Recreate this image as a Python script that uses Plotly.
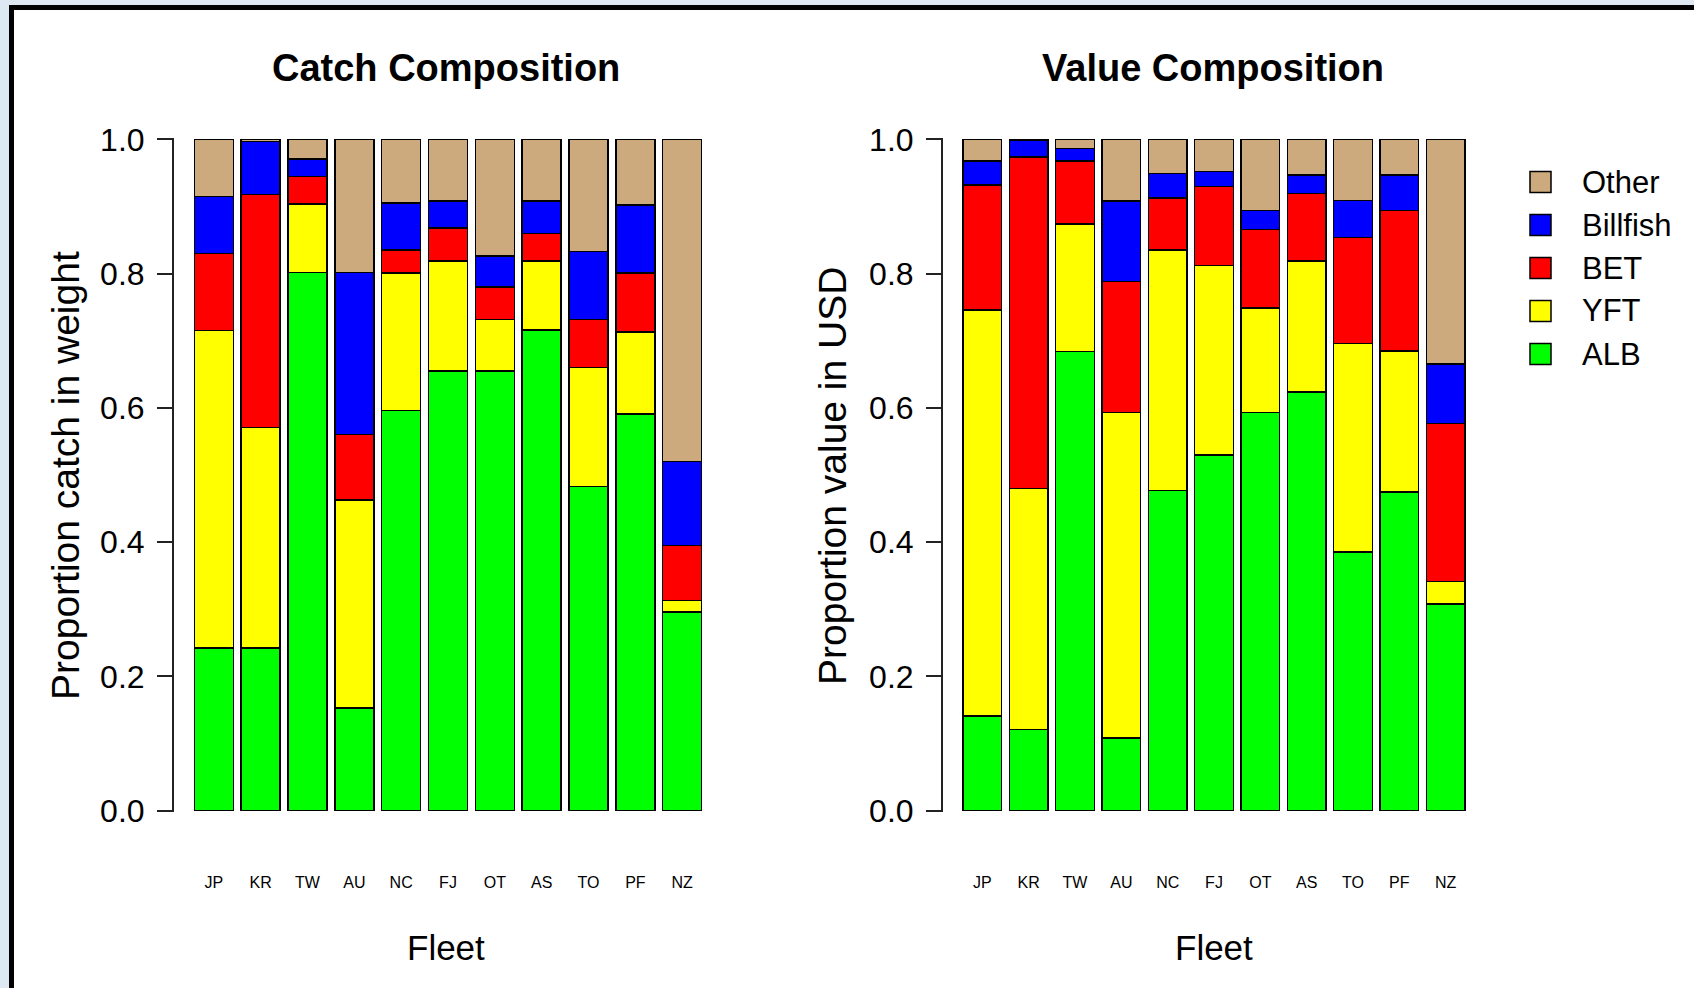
import plotly.graph_objects as go

fleets = ["JP", "KR", "TW", "AU", "NC", "FJ", "OT", "AS", "TO", "PF", "NZ"]
species = ["ALB", "YFT", "BET", "Billfish", "Other"]
species_colors = ["#00FF00", "#FFFF00", "#FF0000", "#0000FF", "#CDAA7D"]

catch_alb = [0.242, 0.242, 0.802, 0.153, 0.596, 0.655, 0.655, 0.716, 0.483, 0.591, 0.296]
catch_yft = [0.473, 0.329, 0.102, 0.310, 0.205, 0.164, 0.077, 0.103, 0.177, 0.122, 0.017]
catch_bet = [0.115, 0.347, 0.041, 0.097, 0.034, 0.049, 0.048, 0.041, 0.072, 0.088, 0.082]
catch_billfish = [0.085, 0.079, 0.026, 0.242, 0.070, 0.040, 0.046, 0.048, 0.101, 0.101, 0.125]
catch_other = [0.085, 0.003, 0.029, 0.198, 0.095, 0.092, 0.174, 0.092, 0.167, 0.098, 0.480]

value_alb = [0.141, 0.121, 0.684, 0.108, 0.477, 0.530, 0.593, 0.624, 0.385, 0.475, 0.308]
value_yft = [0.605, 0.359, 0.190, 0.485, 0.358, 0.282, 0.156, 0.195, 0.311, 0.210, 0.033]
value_bet = [0.186, 0.494, 0.094, 0.195, 0.078, 0.118, 0.117, 0.100, 0.158, 0.209, 0.236]
value_billfish = [0.036, 0.024, 0.018, 0.120, 0.036, 0.022, 0.028, 0.028, 0.055, 0.053, 0.088]
value_other = [0.032, 0.002, 0.014, 0.092, 0.051, 0.048, 0.106, 0.053, 0.091, 0.053, 0.335]

y_ticks = [0.0, 0.2, 0.4, 0.6, 0.8, 1.0]

catch_series = [catch_alb, catch_yft, catch_bet, catch_billfish, catch_other]
value_series = [value_alb, value_yft, value_bet, value_billfish, value_other]

W, H = 1694, 988
FONT = "Liberation Sans, Arial, sans-serif"


def px_x(p):
    return p / W


def px_y(p):
    return 1 - p / H


fig = go.Figure()
for name, col, vals in zip(species, species_colors, catch_series):
    fig.add_trace(go.Bar(x=fleets, y=vals, name=name, marker=dict(color=col, line=dict(color="black", width=1.5)),
                         xaxis="x", yaxis="y", showlegend=False))
for name, col, vals in zip(species, species_colors, value_series):
    fig.add_trace(go.Bar(x=fleets, y=vals, name=name, marker=dict(color=col, line=dict(color="black", width=1.5)),
                         xaxis="x2", yaxis="y2", showlegend=False))

ydom = [px_y(812), px_y(138)]
xaxis_common = dict(type="category", range=[-0.85, 10.85], showline=False, ticks="", showgrid=False,
                    zeroline=False, automargin=False,
                    tickfont=dict(family=FONT, size=16, color="black"), ticklabelstandoff=59)
yaxis_common = dict(range=[-0.002, 1.002], tickvals=y_ticks, ticktext=[f"{v:.1f}" for v in y_ticks],
                    showline=True, linecolor="#222", linewidth=2, ticks="outside", ticklen=15, tickwidth=2,
                    tickcolor="#222", showgrid=False, zeroline=False, automargin=False,
                    tickfont=dict(family=FONT, size=32, color="black"), ticklabelstandoff=6)

fig.update_layout(
    width=W, height=H, autosize=False,
    margin=dict(l=0, r=0, t=0, b=0, pad=0, autoexpand=False),
    paper_bgcolor="white", plot_bgcolor="white",
    barmode="stack", bargap=0.2 / 1.2,
    showlegend=False,
    xaxis=dict(domain=[px_x(174), px_x(722)], anchor="y", **xaxis_common),
    yaxis=dict(domain=ydom, anchor="x", **yaxis_common),
    xaxis2=dict(domain=[px_x(943), px_x(1485)], anchor="y2", **xaxis_common),
    yaxis2=dict(domain=ydom, anchor="x2", **yaxis_common),
)

annotations = [
    dict(text="<b>Catch Composition</b>", x=px_x(446), y=px_y(68), font=dict(size=38)),
    dict(text="<b>Value Composition</b>", x=px_x(1213), y=px_y(68), font=dict(size=38)),
    dict(text="Fleet", x=px_x(446), y=px_y(947), font=dict(size=35)),
    dict(text="Fleet", x=px_x(1214), y=px_y(947), font=dict(size=35)),
    dict(text="Proportion catch in weight", x=px_x(65), y=px_y(476), textangle=-90, font=dict(size=39)),
    dict(text="Proportion value in USD", x=px_x(832), y=px_y(476), textangle=-90, font=dict(size=39)),
]
shapes = []
# manual legend (top item is last species in stack)
leg_y = [182, 225, 268, 311, 354]
for i, (name, col) in enumerate(zip(species[::-1], species_colors[::-1])):
    cy = leg_y[i]
    shapes.append(dict(type="rect", xref="paper", yref="paper", x0=px_x(1530), x1=px_x(1551),
                       y0=px_y(cy + 10.5), y1=px_y(cy - 10.5), fillcolor=col,
                       line=dict(color="black", width=1.5)))
    annotations.append(dict(text=name, x=px_x(1580), y=px_y(cy), xanchor="left", font=dict(size=31)))

for a in annotations:
    a.setdefault("xref", "paper")
    a.setdefault("yref", "paper")
    a.setdefault("showarrow", False)
    a.setdefault("xanchor", "center")
    a.setdefault("yanchor", "middle")
    a["font"] = dict(family=FONT, color="black", **a["font"])

# window frame
shapes += [
    dict(type="rect", xref="paper", yref="paper", x0=0, x1=px_x(9), y0=0, y1=1, fillcolor="#dde8f2",
         line=dict(width=0), layer="above"),
    dict(type="rect", xref="paper", yref="paper", x0=0, x1=1, y0=px_y(5), y1=1, fillcolor="#dde8f2",
         line=dict(width=0), layer="above"),
    dict(type="rect", xref="paper", yref="paper", x0=px_x(9), x1=px_x(14), y0=0, y1=px_y(5),
         fillcolor="black", line=dict(width=0), layer="above"),
    dict(type="rect", xref="paper", yref="paper", x0=px_x(9), x1=1, y0=px_y(10), y1=px_y(5),
         fillcolor="black", line=dict(width=0), layer="above"),
]

fig.update_layout(annotations=annotations, shapes=shapes)
fig.write_html("out.html")
